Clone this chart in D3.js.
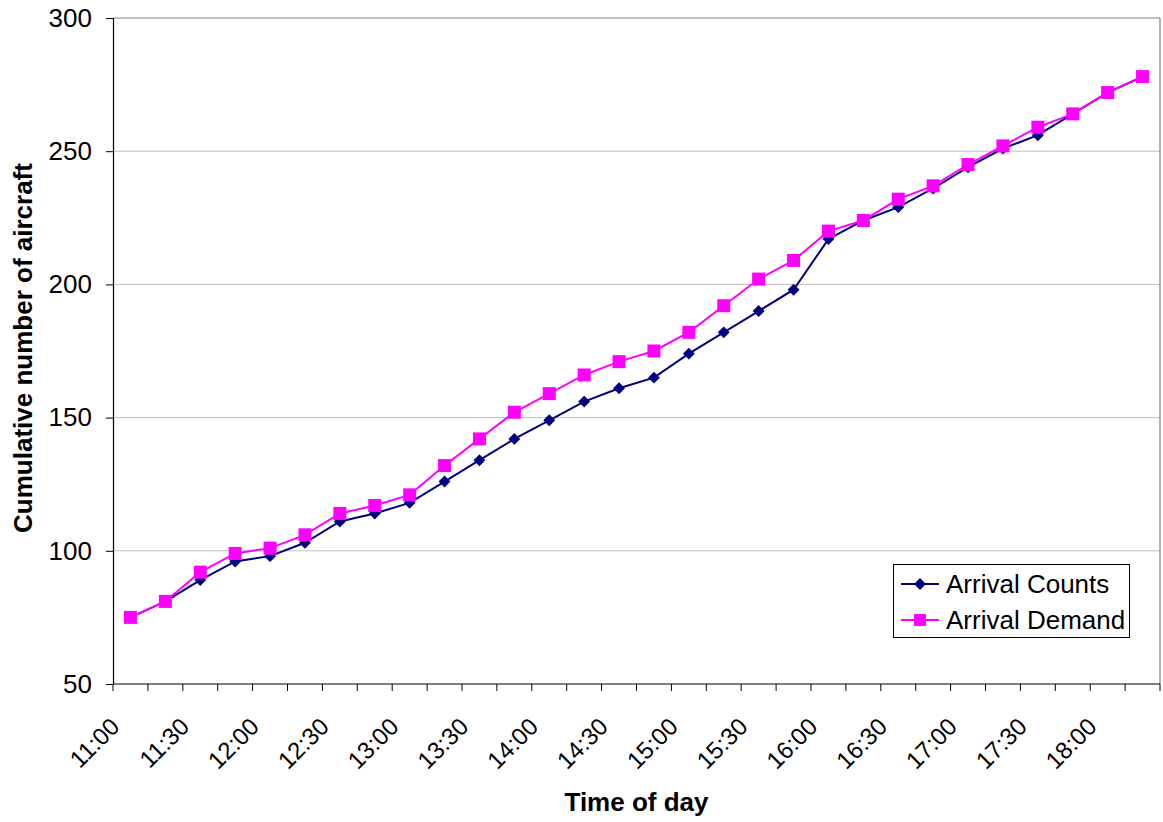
<!DOCTYPE html>
<html>
<head>
<meta charset="utf-8">
<script src="https://cdn.jsdelivr.net/npm/d3@7"></script>
<style>
  html, body { margin: 0; padding: 0; background: #fff; }
  text { font-family: "Liberation Sans", Arial, sans-serif; }
</style>
</head>
<body>
<svg id="chart" width="1163" height="822"></svg>
<script>
// 15-minute intervals, 11:00 through 18:15
const times = ["11:00","11:15","11:30","11:45","12:00","12:15","12:30","12:45",
  "13:00","13:15","13:30","13:45","14:00","14:15","14:30","14:45",
  "15:00","15:15","15:30","15:45","16:00","16:15","16:30","16:45",
  "17:00","17:15","17:30","17:45","18:00","18:15"];
const arrivalCounts = [75, 81, 89, 96, 98, 103, 111, 114, 118, 126, 134, 142, 149, 156, 161,
  165, 174, 182, 190, 198, 217, 224, 229, 236, 244, 251, 256, 264, 272, 278];
const arrivalDemand = [75, 81, 92, 99, 101, 106, 114, 117, 121, 132, 142, 152, 159, 166, 171,
  175, 182, 192, 202, 209, 220, 224, 232, 237, 245, 252, 259, 264, 272, 278];
const yTicks = [50, 100, 150, 200, 250, 300];
const seriesNames = ["Arrival Counts", "Arrival Demand"];

const svg = d3.select("#chart");
const plotLeft = 113, plotRight = 1160, plotTop = 18, plotBottom = 684;

const x = d3.scaleBand().domain(times).range([plotLeft, plotRight]).paddingInner(0).paddingOuter(0);
const y = d3.scaleLinear().domain([50, 300]).range([plotBottom, plotTop]);

// horizontal gridlines
svg.append("g").selectAll("line")
  .data(yTicks.filter(v => v > 50 && v < 300))
  .join("line")
  .attr("x1", plotLeft).attr("x2", plotRight)
  .attr("y1", d => y(d)).attr("y2", d => y(d))
  .attr("stroke", "#c0c0c0").attr("stroke-width", 1);

// plot frame: top and right edges
svg.append("line").attr("x1", plotLeft).attr("x2", plotRight).attr("y1", y(300)).attr("y2", y(300))
  .attr("stroke", "#808080").attr("stroke-width", 1.2);
svg.append("line").attr("x1", plotRight).attr("x2", plotRight).attr("y1", plotTop).attr("y2", plotBottom)
  .attr("stroke", "#808080").attr("stroke-width", 1.2);

// y axis
const yAxis = svg.append("g").attr("transform", `translate(${plotLeft},0)`)
  .call(d3.axisLeft(y).tickValues(yTicks).tickSize(7).tickPadding(14).tickFormat(d3.format("d")));
yAxis.select(".domain").attr("stroke", "#000").attr("stroke-width", 1.2);
yAxis.selectAll(".tick line").attr("stroke", "#000");
yAxis.selectAll("text").attr("font-size", 26).attr("fill", "#000")
  .style("font-family", "'Liberation Sans', Arial, sans-serif");

// x axis: ticks on category boundaries
const xg = svg.append("g");
xg.append("line").attr("x1", plotLeft).attr("x2", plotRight).attr("y1", plotBottom).attr("y2", plotBottom)
  .attr("stroke", "#000").attr("stroke-width", 1.2);
const boundaries = times.map(t => x(t)).concat([plotRight]);
xg.selectAll("line.tick").data(boundaries).join("line").attr("class", "tick")
  .attr("x1", d => d).attr("x2", d => d).attr("y1", plotBottom).attr("y2", plotBottom + 7)
  .attr("stroke", "#000").attr("stroke-width", 1);
xg.selectAll("text").data(times.filter((t, i) => i % 2 === 0)).join("text")
  .attr("transform", d => `translate(${x(d) + x.bandwidth() / 2 - 9.5},${plotBottom + 44}) rotate(-45)`)
  .attr("text-anchor", "end")
  .attr("font-size", 24)
  .attr("fill", "#000")
  .text(d => d);

// axis titles
svg.append("text")
  .attr("transform", `translate(32,348) rotate(-90)`)
  .attr("text-anchor", "middle").attr("font-size", 26).attr("font-weight", "bold")
  .text("Cumulative number of aircraft");
svg.append("text")
  .attr("x", (plotLeft + plotRight) / 2).attr("y", 811)
  .attr("text-anchor", "middle").attr("font-size", 26).attr("font-weight", "bold")
  .text("Time of day");

const cx = d => x(d) + x.bandwidth() / 2;
const line = d3.line().x(d => cx(d.t)).y(d => y(d.v));

const counts = times.map((t, i) => ({ t, v: arrivalCounts[i] }));
const demand = times.map((t, i) => ({ t, v: arrivalDemand[i] }));

const navy = "#000080", magenta = "#ff00ff";

// Arrival Counts: navy line with diamonds
svg.append("path").datum(counts).attr("d", line)
  .attr("fill", "none").attr("stroke", navy).attr("stroke-width", 2);
// Arrival Demand: magenta line with squares
svg.append("path").datum(demand).attr("d", line)
  .attr("fill", "none").attr("stroke", magenta).attr("stroke-width", 2);

const diamond = d3.symbol().type(d3.symbolDiamond2).size(90);
svg.append("g").selectAll("path").data(counts).join("path")
  .attr("d", diamond)
  .attr("transform", d => `translate(${cx(d.t)},${y(d.v)})`)
  .attr("fill", navy);

svg.append("g").selectAll("rect").data(demand).join("rect")
  .attr("x", d => cx(d.t) - 6.5).attr("y", d => y(d.v) - 6.5)
  .attr("width", 13).attr("height", 13)
  .attr("fill", magenta);

// legend
const lg = svg.append("g");
lg.append("rect").attr("x", 893.5).attr("y", 564.5).attr("width", 236).attr("height", 73)
  .attr("fill", "#fff").attr("stroke", "#000").attr("stroke-width", 1);
const legendRows = [
  { name: seriesNames[0], color: navy, mark: "diamond", yy: 584 },
  { name: seriesNames[1], color: magenta, mark: "square", yy: 620 }
];
legendRows.forEach(r => {
  lg.append("line").attr("x1", 901).attr("x2", 939).attr("y1", r.yy).attr("y2", r.yy)
    .attr("stroke", r.color).attr("stroke-width", 2);
  if (r.mark === "diamond") {
    lg.append("path").attr("d", diamond).attr("transform", `translate(920,${r.yy})`).attr("fill", r.color);
  } else {
    lg.append("rect").attr("x", 914).attr("y", r.yy - 6).attr("width", 12).attr("height", 12).attr("fill", r.color);
  }
  lg.append("text").attr("x", 946).attr("y", r.yy + 9).attr("font-size", 26)
    .attr("fill", "#000").text(r.name);
});
</script>
</body>
</html>
